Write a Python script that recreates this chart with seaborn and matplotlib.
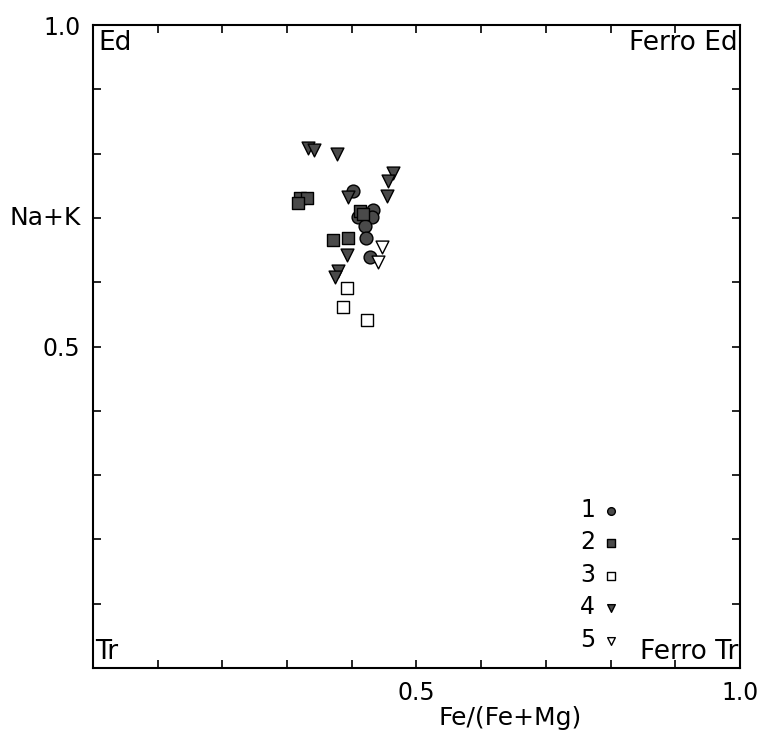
import numpy as np
import pandas as pd
import matplotlib
matplotlib.use("Agg")
import matplotlib.pyplot as plt
import seaborn as sns

# ---- data ----
# group 1: filled circles
g1_x = [0.402, 0.433, 0.431, 0.410, 0.420, 0.422, 0.428]
g1_y = [0.742, 0.712, 0.701, 0.701, 0.687, 0.669, 0.639]
# group 2: filled squares
g2_x = [0.320, 0.331, 0.317, 0.413, 0.417, 0.371, 0.394]
g2_y = [0.731, 0.731, 0.723, 0.711, 0.706, 0.666, 0.669]
# group 3: open squares
g3_x = [0.393, 0.386, 0.423]
g3_y = [0.591, 0.561, 0.541]
# group 4: filled down triangles
g4_x = [0.332, 0.342, 0.377, 0.394, 0.464, 0.456, 0.454, 0.393, 0.379, 0.374]
g4_y = [0.809, 0.806, 0.799, 0.733, 0.770, 0.757, 0.734, 0.642, 0.617, 0.608]
# group 5: open down triangles
g5_x = [0.447, 0.440]
g5_y = [0.655, 0.631]

groups = ["1", "2", "3", "4", "5"]
xs = [g1_x, g2_x, g3_x, g4_x, g5_x]
ys = [g1_y, g2_y, g3_y, g4_y, g5_y]
markers = ["o", "s", "s", "v", "v"]
fills = ["#4a4a4a", "#4a4a4a", "white", "#4a4a4a", "white"]

x_ticks = [0.1, 0.2, 0.3, 0.4, 0.5, 0.6, 0.7, 0.8, 0.9]
y_ticks = [0.1, 0.2, 0.3, 0.4, 0.5, 0.6, 0.7, 0.8, 0.9]
corner_labels = ["Ed", "Ferro Ed", "Tr", "Ferro Tr"]

sns.set_style("ticks")
plt.rcParams["font.family"] = ["DejaVu Sans"]
plt.rcParams["text.color"] = "black"
plt.rcParams["axes.labelcolor"] = "black"
plt.rcParams["xtick.color"] = "black"
plt.rcParams["ytick.color"] = "black"

fig = plt.figure(figsize=(7.62, 7.39), dpi=100)
ax = fig.add_axes([0.122, 0.096, 0.849, 0.870])

for name, gx, gy, m, fc in zip(groups, xs, ys, markers, fills):
    df = pd.DataFrame({"x": gx, "y": gy})
    sns.scatterplot(data=df, x="x", y="y", marker=m, color=fc,
                    edgecolor="black", linewidth=1.0, s=85, label=name, ax=ax)

ax.set_xlim(0, 1.0)
ax.set_ylim(0, 1.0)
ax.set_xticks(x_ticks + [1.0])
ax.set_xticklabels(["" if t != 0.5 else "0.5" for t in x_ticks] + ["1.0"])
ax.set_yticks(y_ticks + [1.0])
ax.set_yticklabels(["" if t != 0.5 else "0.5" for t in y_ticks] + ["1.0"])
ax.tick_params(direction="in", length=6, width=1.2, top=True, right=True,
               labelsize=17, pad=9)

for sp in ax.spines.values():
    sp.set_visible(True)
    sp.set_linewidth(1.5)
    sp.set_color("black")

ax.set_xlabel("Fe/(Fe+Mg)", fontsize=18, va="center")
ax.xaxis.set_label_coords(0.645, -0.078)
ax.set_ylabel("Na+K", fontsize=18, rotation=0, ha="right", va="center")
ax.yaxis.set_label_coords(-0.018, 0.7)

ax.text(0.008, 0.993, corner_labels[0], transform=ax.transAxes, fontsize=19, ha="left", va="top")
ax.text(0.997, 0.993, corner_labels[1], transform=ax.transAxes, fontsize=19, ha="right", va="top")
ax.text(0.004, 0.004, corner_labels[2], transform=ax.transAxes, fontsize=19, ha="left", va="bottom")
ax.text(0.997, 0.004, corner_labels[3], transform=ax.transAxes, fontsize=19, ha="right", va="bottom")

leg = ax.legend(loc="lower left", bbox_to_anchor=(0.72, -0.008), frameon=False,
                markerfirst=False, fontsize=17, markerscale=0.6,
                labelspacing=0.36, handletextpad=0.15, handlelength=1.0)

ax.grid(False)
fig.savefig("out.png", dpi=100)
